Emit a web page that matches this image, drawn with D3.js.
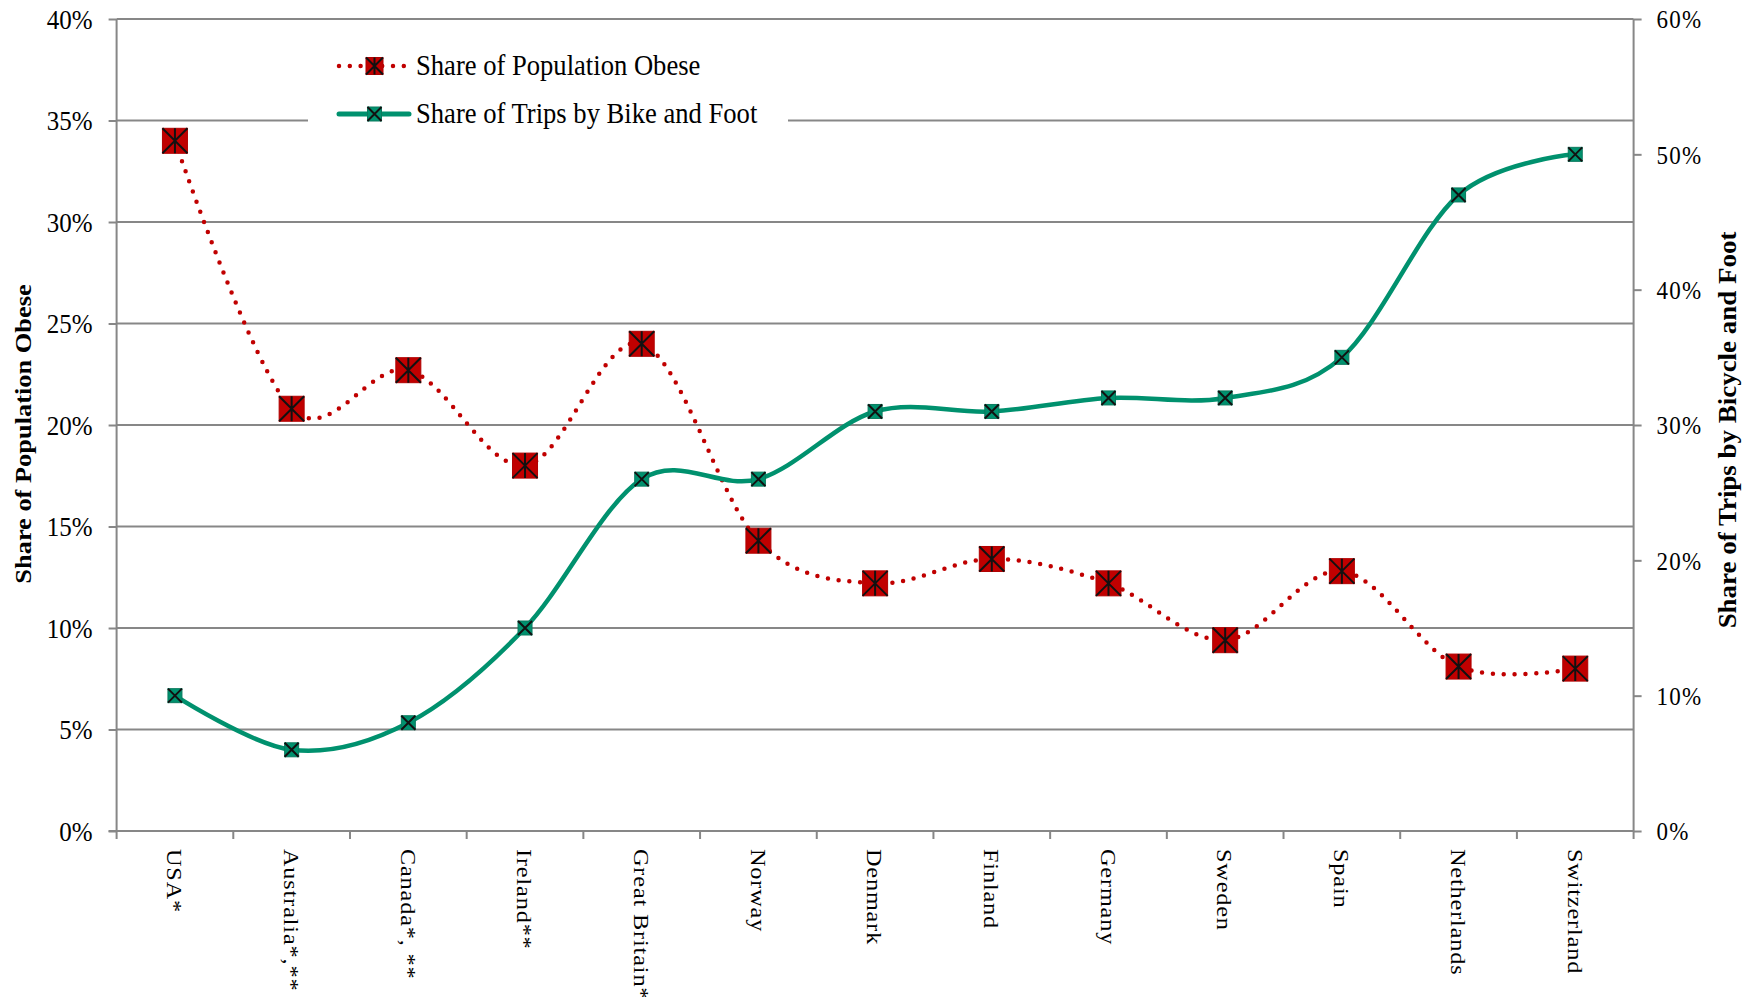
<!DOCTYPE html>
<html>
<head>
<meta charset="utf-8">
<script src="https://cdn.jsdelivr.net/npm/d3@7"></script>
<style>
  html, body { margin: 0; padding: 0; background: #ffffff; }
  svg { display: block; }
  text { font-family: "Liberation Serif", "Times New Roman", serif; fill: #000; }
</style>
</head>
<body>
<svg id="chart" width="1758" height="997"></svg>
<script>
// ---- data ----
const categories = ["USA*", "Australia*,**", "Canada*, **", "Ireland**", "Great Britain*", "Norway",
  "Denmark", "Finland", "Germany", "Sweden", "Spain", "Netherlands", "Switzerland"];
const obeseShare = [34.0, 20.8, 22.7, 18.0, 24.0, 14.3, 12.2, 13.4, 12.2, 9.4, 12.8, 8.1, 8.0];
const tripShare = [10, 6, 8, 15, 26, 26, 31, 31, 32, 32, 35, 47, 50];
const leftTicks = [0, 5, 10, 15, 20, 25, 30, 35, 40];
const rightTicks = [0, 10, 20, 30, 40, 50, 60];
const seriesNames = ["Share of Population Obese", "Share of Trips by Bike and Foot"];
const leftTitle = "Share of Population Obese";
const rightTitle = "Share of Trips by Bicycle and Foot";

// ---- layout ----
const L = 116.6, R = 1633.6, T = 19, B = 831;
const red = "#C00000", green = "#00916E", grid = "#878787";
const SY = 1.1; // vertical stretch of text as in the reference

const svg = d3.select("#chart");
const x = d3.scaleBand().domain(categories).range([L, R]).padding(0);
const yL = d3.scaleLinear().domain([0, 40]).range([B, T]);
const yR = d3.scaleLinear().domain([0, 60]).range([B, T]);
const cx = d => x(d) + x.bandwidth() / 2;

// gridlines
svg.append("g").selectAll("line").data(leftTicks.filter(d => d > 0)).join("line")
  .attr("x1", L).attr("x2", R).attr("y1", d => yL(d)).attr("y2", d => yL(d))
  .attr("stroke", grid).attr("stroke-width", 2);

// legend background (covers the grid line)
svg.append("rect").attr("x", 308).attr("y", 34).attr("width", 480).attr("height", 102).attr("fill", "#fff");

// left axis
const gL = svg.append("g").attr("transform", `translate(${L},0)`)
  .call(d3.axisLeft(yL).tickValues(leftTicks).tickSize(8).tickPadding(0).tickFormat(d => d + "%"));
gL.select(".domain").attr("stroke", grid).attr("stroke-width", 2).attr("d", `M0,${T}V${B}`);
gL.selectAll(".tick line").attr("stroke", grid).attr("stroke-width", 2);
gL.selectAll(".tick text").attr("x", -24).attr("dy", null).attr("y", 0)
  .attr("font-size", 25).attr("font-family", "Liberation Serif").attr("fill", "#000")
  .attr("transform", `scale(1,${SY}) translate(0,${8.5})`);

// right axis
const gR = svg.append("g").attr("transform", `translate(${R},0)`)
  .call(d3.axisRight(yR).tickValues(rightTicks).tickSize(8).tickPadding(0).tickFormat(d => d + "%"));
gR.select(".domain").attr("stroke", grid).attr("stroke-width", 2).attr("d", `M0,${T}V${B}`);
gR.selectAll(".tick line").attr("stroke", grid).attr("stroke-width", 2);
gR.selectAll(".tick text").attr("x", 23).attr("dy", null).attr("y", 0)
  .attr("font-size", 23).attr("letter-spacing", 1.2).attr("font-family", "Liberation Serif").attr("fill", "#000")
  .attr("transform", `scale(1,${SY}) translate(0,${8})`);

// bottom axis
const gB = svg.append("g").attr("transform", `translate(0,${B})`)
  .call(d3.axisBottom(x).tickSize(0).tickFormat(""));
gB.select(".domain").attr("stroke", grid).attr("stroke-width", 2).attr("d", `M${L - 8},0H${R}`);
gB.selectAll(".tick").remove();
const bounds = categories.map(c => x(c)).concat([R]);
gB.append("g").selectAll("line").data(bounds).join("line")
  .attr("x1", d => d).attr("x2", d => d).attr("y1", 0).attr("y2", 8)
  .attr("stroke", grid).attr("stroke-width", 2);
gB.append("g").attr("text-anchor", "start").selectAll("text").data(categories).join("text")
  .attr("transform", d => `translate(${cx(d)},18) rotate(90) scale(${SY},1)`)
  .attr("text-anchor", "start")
  .attr("dy", "0.35em").attr("font-size", 22).attr("letter-spacing", 0.8)
  .text(d => d);

// axis titles
svg.append("text").attr("transform", `translate(31,${(T + B) / 2 + 9}) rotate(-90) scale(${SY},1)`)
  .attr("text-anchor", "middle").attr("font-weight", "bold").attr("font-size", 24).text(leftTitle);
svg.append("text").attr("transform", `translate(1736,${(T + B) / 2 + 5}) rotate(-90) scale(${SY},1)`)
  .attr("text-anchor", "middle").attr("font-weight", "bold").attr("font-size", 24.5).text(rightTitle);

// lines
const curve = d3.curveCardinal.tension(0);
const lineL = d3.line().x((d, i) => cx(categories[i])).y(d => yL(d)).curve(curve);
const lineR = d3.line().x((d, i) => cx(categories[i])).y(d => yR(d)).curve(curve);

function redMarker(g, px, py, s) {
  const h = s / 2;
  g.append("rect").attr("x", px - h).attr("y", py - h).attr("width", s).attr("height", s)
    .attr("fill", red).attr("stroke", "#B00000").attr("stroke-width", 1);
  g.append("path").attr("d", `M${px - h},${py - h}L${px + h},${py + h}M${px + h},${py - h}L${px - h},${py + h}M${px},${py - h}V${py + h}`)
    .attr("stroke", "#111").attr("stroke-width", 2).attr("fill", "none");
}
function greenMarker(g, px, py, s) {
  const h = s / 2;
  g.append("rect").attr("x", px - h).attr("y", py - h).attr("width", s).attr("height", s)
    .attr("fill", green).attr("stroke", "#0a7a5e").attr("stroke-width", 1);
  g.append("path").attr("d", `M${px - h},${py - h}L${px + h},${py + h}M${px + h},${py - h}L${px - h},${py + h}`)
    .attr("stroke", "#111").attr("stroke-width", 2).attr("fill", "none");
}

svg.append("path").datum(obeseShare).attr("d", lineL).attr("fill", "none")
  .attr("stroke", red).attr("stroke-width", 4.5).attr("stroke-linecap", "round").attr("stroke-dasharray", "0 10.8");
const mL = svg.append("g");
obeseShare.forEach((v, i) => redMarker(mL, cx(categories[i]), yL(v), 25));

svg.append("path").datum(tripShare).attr("d", lineR).attr("fill", "none")
  .attr("stroke", green).attr("stroke-width", 4.5);
const mR = svg.append("g");
tripShare.forEach((v, i) => greenMarker(mR, cx(categories[i]), yR(v), 14));

// legend
const lg = svg.append("g");
lg.append("line").attr("x1", 339).attr("x2", 409).attr("y1", 66).attr("y2", 66)
  .attr("stroke", red).attr("stroke-width", 4.5).attr("stroke-linecap", "round").attr("stroke-dasharray", "0 10.8");
redMarker(lg, 374.5, 66, 17);
lg.append("line").attr("x1", 339).attr("x2", 409).attr("y1", 114).attr("y2", 114)
  .attr("stroke", green).attr("stroke-width", 5).attr("stroke-linecap", "round");
greenMarker(lg, 374.5, 114, 14);
lg.selectAll("text.lt").data(seriesNames).join("text").attr("class", "lt")
  .attr("transform", (d, i) => `translate(416,${[75, 123][i]}) scale(1,${SY})`)
  .attr("font-size", 26.6).text(d => d);
</script>
</body>
</html>
